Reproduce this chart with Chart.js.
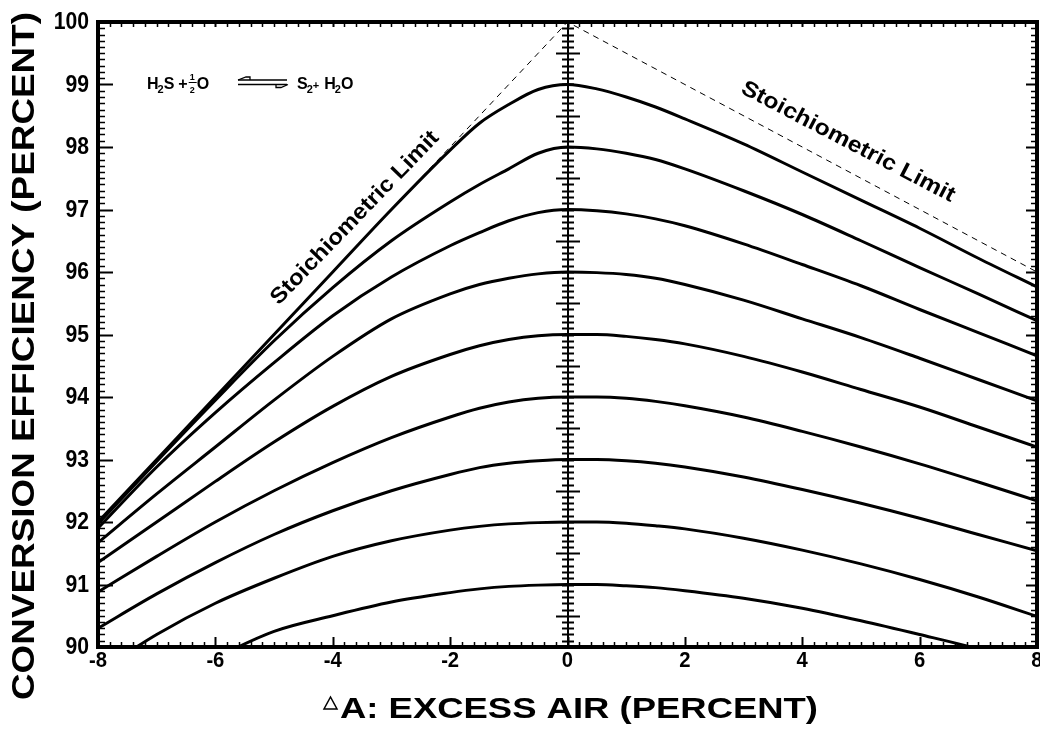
<!DOCTYPE html>
<html>
<head>
<meta charset="utf-8">
<script src="https://cdn.jsdelivr.net/npm/chart.js@4.4.0/dist/chart.umd.min.js"></script>
<style>
  html, body { margin: 0; padding: 0; background: #fff; }
</style>
</head>
<body>
<canvas id="chart" width="1040" height="729"></canvas>
<script>
// excess air sample points (percent)
const xValues = [-8, -7, -6, -5, -4, -3, -2, -1.5, -1, -0.5, 0, 0.5, 1, 1.5, 2, 3, 4, 5, 6, 7, 8];

// conversion efficiency curves, named by their peak value
const eff99 = [92.0, 93.0, 94.0, 95.0, 96.0, 97.0, 97.95, 98.38, 98.68, 98.92, 99.0, 98.93, 98.8, 98.64, 98.45, 98.05, 97.6, 97.15, 96.7, 96.22, 95.76];
const eff98 = [91.97, 92.97, 93.95, 94.9, 95.75, 96.5, 97.12, 97.4, 97.65, 97.9, 98.0, 97.97, 97.9, 97.8, 97.65, 97.3, 96.92, 96.5, 96.07, 95.65, 95.22];
const eff97 = [91.9, 92.88, 93.75, 94.55, 95.3, 95.92, 96.42, 96.63, 96.82, 96.95, 97.0, 96.98, 96.93, 96.85, 96.74, 96.45, 96.12, 95.78, 95.4, 95.03, 94.66];
const eff96 = [91.67, 92.45, 93.2, 93.95, 94.65, 95.25, 95.65, 95.8, 95.9, 95.97, 96.0, 95.99, 95.96, 95.9, 95.8, 95.55, 95.25, 94.95, 94.62, 94.28, 93.94];
const eff95 = [91.35, 92.0, 92.65, 93.28, 93.85, 94.33, 94.68, 94.82, 94.92, 94.98, 95.0, 95.0, 94.97, 94.92, 94.85, 94.65, 94.4, 94.12, 93.84, 93.52, 93.2];
const eff94 = [90.88, 91.45, 92.0, 92.5, 92.95, 93.35, 93.68, 93.82, 93.92, 93.98, 94.0, 94.0, 93.98, 93.93, 93.86, 93.68, 93.45, 93.2, 92.93, 92.64, 92.34];
const eff93 = [90.3, 90.85, 91.35, 91.8, 92.18, 92.5, 92.76, 92.87, 92.94, 92.98, 93.0, 93.0, 92.98, 92.94, 92.88, 92.72, 92.52, 92.3, 92.06, 91.8, 91.54];
const eff92 = [89.6, 90.2, 90.7, 91.1, 91.45, 91.7, 91.87, 91.93, 91.97, 91.99, 92.0, 92.0, 91.98, 91.94, 91.89, 91.74, 91.55, 91.33, 91.08, 90.8, 90.49];
const eff91 = [88.7, 89.3, 89.82, 90.25, 90.5, 90.72, 90.87, 90.93, 90.97, 90.99, 91.0, 91.0, 90.98, 90.95, 90.9, 90.78, 90.62, 90.42, 90.2, 89.97, 89.7];

// stoichiometric limit (dashed)
const limitX = [-8, 0, 8];
const limitY = [92, 100, 96];

const xTicks = [-8, -6, -4, -2, 0, 2, 4, 6, 8];
const yTicks = [90, 91, 92, 93, 94, 95, 96, 97, 98, 99, 100];

const FONT = '"Liberation Sans", Arial, sans-serif';

const curves = [eff99, eff98, eff97, eff96, eff95, eff94, eff93, eff92, eff91];
const datasets = curves.map(vals => ({
    data: xValues.map((x, i) => ({ x: x, y: vals[i] })),
    borderColor: '#000',
    borderWidth: 3,
    pointRadius: 0,
    cubicInterpolationMode: 'monotone',
    fill: false
}));
datasets.push({
    data: limitX.map((x, i) => ({ x: x, y: limitY[i] })),
    borderColor: '#000',
    borderWidth: 1,
    borderDash: [6, 5],
    pointRadius: 0,
    tension: 0,
    fill: false
});

// draw text squeezed/stretched to a given length
function fitText(ctx, txt, x, y, len) {
    const w = ctx.measureText(txt).width;
    ctx.save();
    ctx.translate(x, y);
    ctx.scale(len / w, 1);
    ctx.fillText(txt, 0, 0);
    ctx.restore();
}

const axesPlugin = {
    id: 'axesPlugin',
    beforeDatasetsDraw(chart) {
        const ctx = chart.ctx, ca = chart.chartArea;
        const xs = chart.scales.x, ys = chart.scales.y;
        ctx.save();
        ctx.strokeStyle = '#000';
        ctx.lineCap = 'butt';
        // bottom and top ticks every 0.2
        for (let i = 0; i <= 80; i++) {
            const px = Math.round(xs.getPixelForValue(-8 + i * 0.2)) + 0.5;
            const major = i % 10 === 0;
            ctx.lineWidth = major ? 2 : 1.5;
            ctx.beginPath();
            ctx.moveTo(px, ca.bottom);
            ctx.lineTo(px, ca.bottom - (major ? 10 : 5));
            ctx.moveTo(px, ca.top);
            ctx.lineTo(px, ca.top + 5);
            ctx.stroke();
        }
        // left and right ticks every 0.1
        for (let i = 0; i <= 100; i++) {
            const py = Math.round(ys.getPixelForValue(90 + i * 0.1)) + 0.5;
            const major = i % 10 === 0;
            ctx.lineWidth = major ? 2 : 1.5;
            ctx.beginPath();
            ctx.moveTo(ca.left, py);
            ctx.lineTo(ca.left + (major ? 15 : 7), py);
            ctx.moveTo(ca.right, py);
            ctx.lineTo(ca.right - (major ? 11 : 6), py);
            ctx.stroke();
        }
        // centre axis at zero excess air
        const cx = Math.round(xs.getPixelForValue(0));
        ctx.lineWidth = 2;
        ctx.beginPath();
        ctx.moveTo(cx, ca.top);
        ctx.lineTo(cx, ca.bottom);
        ctx.stroke();
        for (let i = 1; i < 100; i++) {
            const py = Math.round(ys.getPixelForValue(90 + i * 0.1)) + 0.5;
            const half = (i % 10 === 5) ? 12 : 6;
            ctx.lineWidth = 2;
            ctx.beginPath();
            ctx.moveTo(cx - half, py);
            ctx.lineTo(cx + half, py);
            ctx.stroke();
        }
        ctx.restore();
    },
    afterDraw(chart) {
        const ctx = chart.ctx, ca = chart.chartArea;
        const xs = chart.scales.x, ys = chart.scales.y;
        ctx.save();
        // frame
        ctx.strokeStyle = '#000';
        ctx.lineWidth = 4;
        ctx.strokeRect(ca.left, ca.top, ca.right - ca.left, ca.bottom - ca.top);

        ctx.fillStyle = '#000';
        // y tick labels
        ctx.font = 'bold 23px ' + FONT;
        ctx.textAlign = 'right';
        ctx.textBaseline = 'middle';
        yTicks.forEach(v => {
            ctx.save();
            ctx.translate(89, ys.getPixelForValue(v) + 1);
            ctx.scale(0.92, 1);
            ctx.fillText(String(v), 0, 0);
            ctx.restore();
        });
        // x tick labels
        ctx.font = 'bold 22px ' + FONT;
        ctx.textAlign = 'center';
        xTicks.forEach(v => {
            ctx.save();
            ctx.translate(xs.getPixelForValue(v), 661);
            ctx.scale(0.92, 1);
            ctx.fillText(String(v), 0, 0);
            ctx.restore();
        });

        // axis titles
        ctx.font = 'bold 32px ' + FONT;
        ctx.textAlign = 'left';
        ctx.textBaseline = 'alphabetic';
        ctx.save();
        ctx.translate(34, 700);
        ctx.rotate(-Math.PI / 2);
        fitText(ctx, 'CONVERSION EFFICIENCY (PERCENT)', 0, 0, 688);
        ctx.restore();

        ctx.font = 'bold 30px ' + FONT;
        fitText(ctx, 'A: EXCESS AIR (PERCENT)', 340, 718, 478);
        ctx.lineWidth = 1.5;
        ctx.beginPath();
        ctx.moveTo(324, 709);
        ctx.lineTo(337, 709);
        ctx.lineTo(330.5, 697);
        ctx.closePath();
        ctx.stroke();

        // stoichiometric limit labels
        ctx.font = 'bold 22px ' + FONT;
        ctx.textAlign = 'left';
        ctx.textBaseline = 'middle';
        const label = 'Stoichiometric Limit';
        ctx.save();
        ctx.translate(355, 218);
        ctx.rotate(-46 * Math.PI / 180);
        fitText(ctx, label, -116, 0, 232);
        ctx.restore();
        ctx.save();
        ctx.translate(848, 142);
        ctx.rotate(27.5 * Math.PI / 180);
        fitText(ctx, label, -119, 0, 238);
        ctx.restore();

        // reaction equation
        ctx.textAlign = 'left';
        ctx.textBaseline = 'alphabetic';
        const big = 'bold 16px ' + FONT, small = 'bold 11px ' + FONT;
        let x = 147;
        const base = 89;
        const put = (t, f, dy) => { ctx.font = f; ctx.fillText(t, x, base + (dy || 0)); x += ctx.measureText(t).width; };
        put('H', big); x -= 1; put('2', small, 4); put('S', big); x += 4; put('+', big); x += 1;
        ctx.font = 'bold 9px ' + FONT;
        ctx.fillText('1', x + 1, 80);
        ctx.fillText('2', x + 1, 93);
        ctx.lineWidth = 1;
        ctx.beginPath(); ctx.moveTo(x, 82.5); ctx.lineTo(x + 8, 82.5); ctx.stroke();
        x += 8;
        put('O', big);
        // equilibrium arrows
        ctx.lineWidth = 1.3;
        ctx.beginPath();
        ctx.moveTo(238, 80); ctx.lineTo(287, 80);
        ctx.moveTo(238, 84.5); ctx.lineTo(287, 84.5);
        ctx.stroke();
        ctx.beginPath();
        ctx.moveTo(238, 80); ctx.lineTo(246, 77); ctx.lineTo(250, 77); ctx.lineTo(250, 80);
        ctx.stroke();
        ctx.beginPath();
        ctx.moveTo(276, 84.5); ctx.lineTo(276, 87.5); ctx.lineTo(281, 87.5); ctx.lineTo(288, 84.5);
        ctx.stroke();
        x = 297;
        put('S', big); x -= 1; put('2', small, 4); put('+', small); x += 5;
        put('H', big); x -= 1; put('2', small, 4); put('O', big);
        ctx.restore();
    }
};

new Chart(document.getElementById('chart'), {
    type: 'line',
    data: { datasets: datasets },
    options: {
        responsive: false,
        animation: false,
        layout: { padding: { left: 98, right: 3, top: 22, bottom: 82 } },
        plugins: { legend: { display: false }, tooltip: { enabled: false } },
        scales: {
            x: { type: 'linear', min: -8, max: 8, display: false },
            y: { type: 'linear', min: 90, max: 100, display: false }
        }
    },
    plugins: [axesPlugin]
});
</script>
</body>
</html>
